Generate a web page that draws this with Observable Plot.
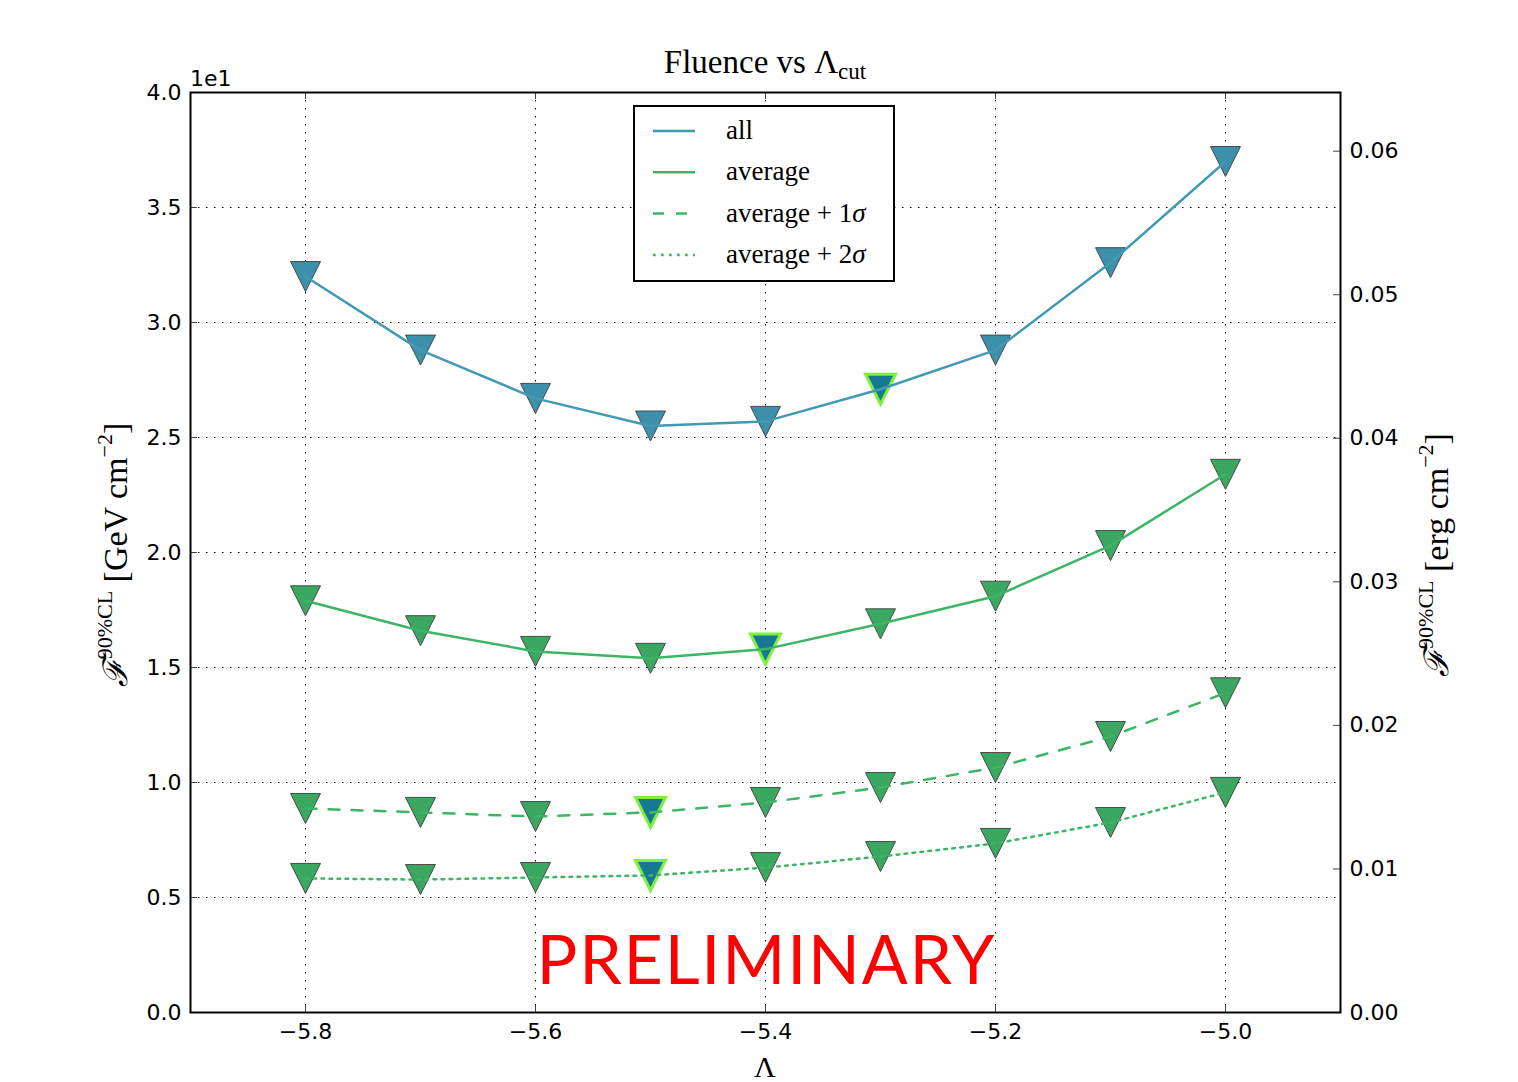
<!DOCTYPE html>
<html><head><meta charset="utf-8">
<script src="https://cdn.jsdelivr.net/npm/d3@7"></script>
<script src="https://cdn.jsdelivr.net/npm/@observablehq/plot@0.6"></script>
<style>body{margin:0;background:#fff} svg{display:block}</style>
</head><body><div id="chart"></div>
<script>
// ---- data ----
const lambdas = [-5.8, -5.7, -5.6, -5.5, -5.4, -5.3, -5.2, -5.1, -5.0];
const fluenceAll      = [32.0, 28.8, 26.7, 25.5, 25.7, 27.1, 28.8, 32.6, 37.0];
const fluenceAverage  = [17.9, 16.6, 15.7, 15.4, 15.8, 16.9, 18.1, 20.3, 23.4];
const fluencePlus1    = [8.87, 8.70, 8.52, 8.70, 9.13, 9.78, 10.65, 12.0, 13.9];
const fluencePlus2    = [5.83, 5.78, 5.87, 5.96, 6.30, 6.78, 7.35, 8.26, 9.57];
const highlightAll = -5.3, highlightAverage = -5.4, highlightPlus1 = -5.5, highlightPlus2 = -5.5;
const seriesNames = ["all", "average", "average + 1σ", "average + 2σ"];
const xTicks = [-5.8, -5.6, -5.4, -5.2, -5.0];
const yTicks = [0, 0.5, 1.0, 1.5, 2.0, 2.5, 3.0, 3.5, 4.0];
const ergTicks = [0, 0.01, 0.02, 0.03, 0.04, 0.05, 0.06];
const GEV_TO_ERG = 1.60218e-3;
const OFFSET = 10; // axis offset "1e1"

// ---- build ----
const W = 1518, H = 1082, mL = 190, mR = 178, mT = 92, mB = 70;
const fw = W - mL - mR, fh = H - mT - mB;
const series = [
  {name: seriesNames[0], values: fluenceAll, line: "#4199b4", fill: "#3d90aa", dash: null, hi: highlightAll},
  {name: seriesNames[1], values: fluenceAverage, line: "#3db565", fill: "#3aa860", dash: null, hi: highlightAverage},
  {name: seriesNames[2], values: fluencePlus1, line: "#3db565", fill: "#3aa860", dash: "11,12", hi: highlightPlus1},
  {name: seriesNames[3], values: fluencePlus2, line: "#3db565", fill: "#3aa860", dash: "2.7,5.3", hi: highlightPlus2}
];
const rows = series.flatMap(s => lambdas.map((l, i) => ({series: s.name, lambda: l, f: s.values[i] / OFFSET, fill: s.fill, hi: l === s.hi})));
const triDown = {draw(ctx, size) { const r = Math.sqrt(size / Math.PI); ctx.moveTo(-r, -r); ctx.lineTo(r, -r); ctx.lineTo(0, r); ctx.closePath(); }};
const fmtMinus = d => d.toFixed(1).replace("-", "\u2212");
const toAxis = e => e / GEV_TO_ERG / OFFSET;

const chart = Plot.plot({
  width: W, height: H, marginLeft: mL, marginRight: mR, marginTop: mT, marginBottom: mB,
  style: {fontFamily: "DejaVu Sans", fontSize: "22px", background: "#fff", color: "#000"},
  x: {domain: [-5.9, -4.9]},
  y: {domain: [0, 4.0]},
  color: {type: "identity"},
  marks: [
    Plot.gridX(xTicks, {stroke: "#000", strokeOpacity: 1, strokeWidth: 1, strokeDasharray: "1.5,6.5"}),
    Plot.gridY(yTicks, {stroke: "#000", strokeOpacity: 1, strokeWidth: 1, strokeDasharray: "1.5,6.5"}),
    Plot.tickX(xTicks, {x: d => d, insetTop: fh - 7, stroke: "#444"}),
    Plot.tickX(xTicks, {x: d => d, insetBottom: fh - 7, stroke: "#444"}),
    Plot.tickY(yTicks, {y: d => d, insetRight: fw - 7, stroke: "#444"}),
    Plot.tickY(ergTicks.map(toAxis), {y: d => d, insetLeft: fw - 7, stroke: "#444"}),
    Plot.axisX(xTicks, {tickSize: 0, tickPadding: 11, fontSize: 22, tickFormat: fmtMinus, label: null}),
    Plot.axisY(yTicks, {anchor: "left", tickSize: 0, tickPadding: 9, fontSize: 22, tickFormat: d => d.toFixed(1), label: null}),
    Plot.axisY(ergTicks.map(toAxis), {anchor: "right", tickSize: 0, tickPadding: 9, fontSize: 22, tickFormat: d => (d * OFFSET * GEV_TO_ERG).toFixed(2), label: null}),
    Plot.dot(rows.filter(d => !d.hi), {x: "lambda", y: "f", symbol: triDown, r: 15, fill: "fill", stroke: "#4a4a4a", strokeWidth: 1}),
    Plot.dot(rows.filter(d => d.hi), {x: "lambda", y: "f", symbol: triDown, r: 15, fill: "#177893", stroke: "#7cf03c", strokeWidth: 3}),
    ...series.map(s => Plot.line(lambdas, {x: d => d, y: (d, i) => s.values[i] / OFFSET, stroke: s.line, strokeWidth: 2.5, strokeDasharray: s.dash})),
    Plot.text(["PRELIMINARY"], {frameAnchor: "bottom", dy: -29, lineAnchor: "bottom", fontSize: 68, fill: "#ff0000", fontFamily: "Lato", textAnchor: "middle", className: "prelim"}),
    Plot.frame({stroke: "#000", strokeWidth: 2})
  ]
});
document.getElementById("chart").appendChild(chart);

// ---- annotations (title, legend, labels) ----
const svg = d3.select(chart);
svg.selectAll(".prelim text").attr("textLength", 458).attr("lengthAdjust", "spacing");
const serif = "Liberation Serif";
// title
const title = svg.append("text").attr("x", mL + fw / 2).attr("y", 73).attr("text-anchor", "middle")
  .attr("font-family", serif).attr("font-size", 33).attr("fill", "#000");
title.append("tspan").text("Fluence vs Λ");
title.append("tspan").attr("font-size", 23).attr("dy", 6).text("cut");
// offset text
svg.append("text").attr("x", mL).attr("y", 86).attr("text-anchor", "start").attr("font-family", "DejaVu Sans").attr("font-size", 22).text("1e" + Math.log10(OFFSET));
// x label
svg.append("text").attr("x", mL + fw / 2).attr("y", 1077).attr("text-anchor", "middle").attr("font-family", serif).attr("font-size", 30).text("Λ");
// y labels
function yLabel(x, unit) {
  const t = svg.append("text").attr("transform", `translate(${x},555) rotate(-90)`).attr("text-anchor", "middle")
    .attr("font-family", serif).attr("font-size", 34).attr("fill", "#000");
  t.append("tspan").attr("font-style", "italic").text("ℱ");
  t.append("tspan").attr("font-size", 22).attr("dy", -15).text("90%CL");
  t.append("tspan").attr("dy", 15).text(" [" + unit + " cm");
  t.append("tspan").attr("font-size", 22).attr("dy", -15).text("−2");
  t.append("tspan").attr("dy", 15).text("]");
}
yLabel(127, "GeV");
yLabel(1448, "erg");
// legend
const lg = svg.append("g");
lg.append("rect").attr("x", 634).attr("y", 106).attr("width", 260).attr("height", 175).attr("fill", "#fff").attr("stroke", "#000").attr("stroke-width", 2);
series.forEach((s, i) => {
  const yy = 131 + i * 41.3;
  lg.append("line").attr("x1", 653).attr("x2", 695).attr("y1", yy).attr("y2", yy).attr("stroke", s.line).attr("stroke-width", 2.5).attr("stroke-dasharray", s.dash);
  const t = lg.append("text").attr("x", 726).attr("y", yy + 8).attr("text-anchor", "start").attr("font-family", serif).attr("font-size", 27).attr("fill", "#000");
  const parts = s.name.split(" + ");
  t.append("tspan").text(parts[0]);
  if (parts[1]) { t.append("tspan").text(" + " + parts[1].replace("σ", "")); t.append("tspan").attr("font-style", "italic").text("σ"); }
});
</script>
</body></html>
